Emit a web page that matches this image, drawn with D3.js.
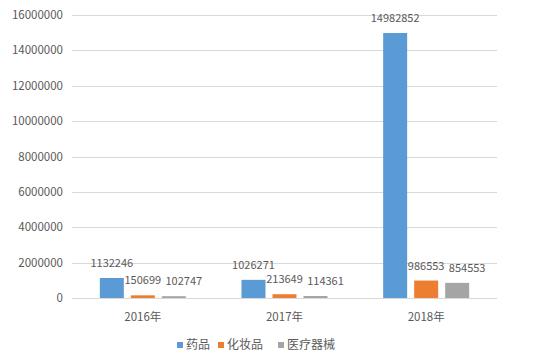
<!DOCTYPE html>
<html><head><meta charset="utf-8">
<script src="https://cdn.jsdelivr.net/npm/d3@7"></script>
<style>body{margin:0;background:#fff}svg{display:block}text{font-family:"Noto Sans CJK SC","Noto Sans",sans-serif;fill:#595959}</style>
</head><body><svg id="c" width="541" height="360"></svg>
<script>
const categories = ["2016年", "2017年", "2018年"];
const seriesNames = ["药品", "化妆品", "医疗器械"];
const drugs = [1132246, 1026271, 14982852];
const cosmetics = [150699, 213649, 986553];
const devices = [102747, 114361, 854553];
const yTicks = [0, 2000000, 4000000, 6000000, 8000000, 10000000, 12000000, 14000000, 16000000];
const colors = ["#5b9bd5", "#ed7d31", "#a5a5a5"];

(function () {
const values = [drugs, cosmetics, devices];
const labelDx = [0, 0, 10];
const svg = d3.select("#c");
const pL = 72, pR = 497, pT = 15, pB = 298;
const y = d3.scaleLinear().domain([0, 16000000]).range([pB, pT]);
const x0 = d3.scaleBand().domain(categories).range([pL, pR]);
const groupW = 86;
const x1 = d3.scaleBand().domain(seriesNames).range([0, groupW]).paddingInner(0.226);

svg.append("g").selectAll("line").data(yTicks).join("line")
  .attr("x1", pL).attr("x2", pR)
  .attr("y1", d => Math.round(y(d)) + 0.5).attr("y2", d => Math.round(y(d)) + 0.5)
  .attr("stroke", "#d9d9d9").attr("stroke-width", 1);

svg.append("g").selectAll("text").data(yTicks).join("text")
  .attr("x", 63).attr("y", d => y(d)).attr("dy", "0.35em")
  .attr("text-anchor", "end").attr("font-size", "11.5px")
  .text(d => d);

categories.forEach((c, ci) => {
  const gx = x0(c) + (x0.bandwidth() - groupW) / 2;
  seriesNames.forEach((s, si) => {
    const v = values[si][ci];
    const bx = gx + x1(s);
    svg.append("rect").attr("x", bx).attr("y", y(v))
      .attr("width", x1.bandwidth()).attr("height", pB - y(v))
      .attr("fill", colors[si]);
    svg.append("text").attr("x", bx + x1.bandwidth() / 2 + labelDx[si]).attr("y", y(v) - 11)
      .attr("text-anchor", "middle").attr("font-size", "11px").text(v);
  });
  svg.append("text").attr("x", x0(c) + x0.bandwidth() / 2).attr("y", 317)
    .attr("dy", "0.35em").attr("text-anchor", "middle").attr("font-size", "11.5px").text(c);
});

const legX = [177, 218, 278];
seriesNames.forEach((s, i) => {
  svg.append("rect").attr("x", legX[i]).attr("y", 342).attr("width", 6).attr("height", 6).attr("fill", colors[i]);
  svg.append("text").attr("x", legX[i] + 9).attr("y", 345).attr("dy", "0.35em").attr("font-size", "12px").text(s);
});
})();
</script></body></html>
